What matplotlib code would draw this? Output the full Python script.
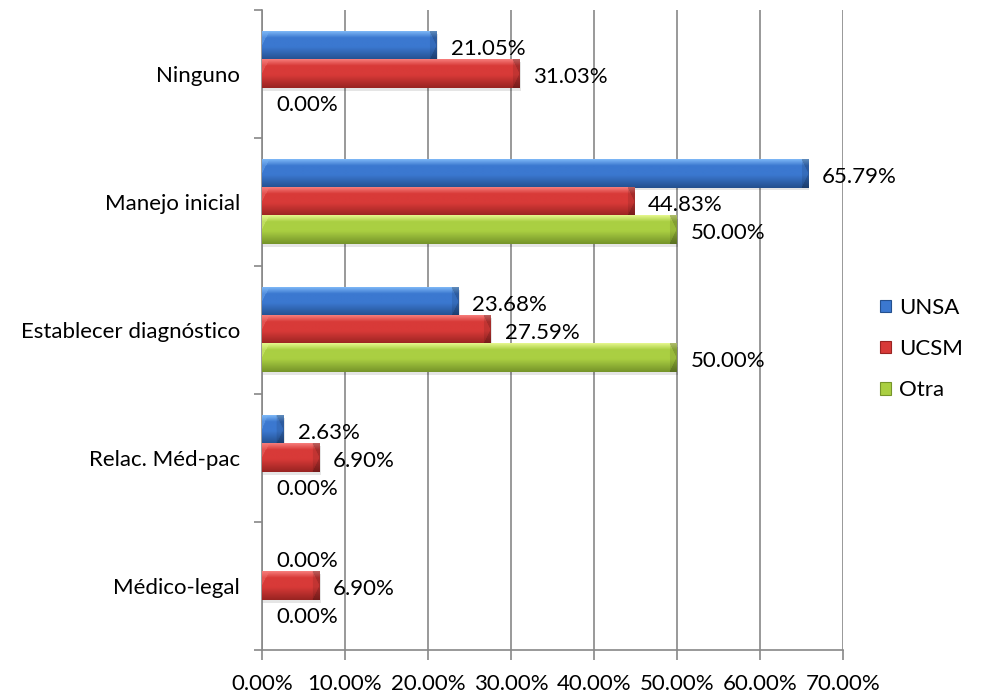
import numpy as np
import matplotlib
matplotlib.use("Agg")
import matplotlib.pyplot as plt
from matplotlib.patches import Patch
from matplotlib.colors import to_rgb

plt.rcParams["font.family"] = ["Lato", "DejaVu Sans"]

categories = ["Médico-legal", "Relac. Méd-pac", "Establecer diagnóstico",
              "Manejo inicial", "Ninguno"]
series = ["UNSA", "UCSM", "Otra"]
unsa = [0.00, 2.63, 23.68, 65.79, 21.05]
ucsm = [6.90, 6.90, 27.59, 44.83, 31.03]
otra = [0.00, 0.00, 50.00, 50.00, 0.00]
xticks = [0, 10, 20, 30, 40, 50, 60, 70]

# light / mid / dark shades for each series
palette = {
    "UNSA": ("#7ab4f4", "#3b78d0", "#24508f"),
    "UCSM": ("#f57a78", "#d83a38", "#9a2422"),
    "Otra": ("#e2f58a", "#aacf42", "#76952a"),
}
FS = 16

fig = plt.figure(figsize=(10.06, 6.94), dpi=100)
ax = fig.add_axes([262 / 1006, 44 / 694, 581 / 1006, 640 / 694])

bar_h = 0.22
offsets = [bar_h, 0.0, -bar_h]
values = [unsa, ucsm, otra]


def bar_image(width_px, height_px, light, mid, dark):
    light, mid, dark = (np.array(to_rgb(c)) for c in (light, mid, dark))
    ny = max(int(height_px), 2)
    nx = max(int(width_px), 2)
    t = np.linspace(0, 1, ny)[:, None]
    # vertical shading: bright top bevel, saturated body, darker bottom
    top = light * (1 - t / 0.22) + mid * (t / 0.22)
    body = mid
    bottom = mid * (1 - (t - 0.55) / 0.45) + dark * ((t - 0.55) / 0.45)
    col = np.where(t < 0.22, top, np.where(t < 0.55, body, bottom))
    col = col[:, None, :] * np.ones((1, nx, 1))
    yy = np.linspace(0, 1, ny)
    # bevelled right end: darker wedge
    bev = min(7, nx // 3)
    for j in range(bev):
        frac = (bev - j) / bev
        mask = (yy < 0.5 * frac) | (yy > 1 - 0.5 * frac)
        col[:, nx - 1 - j, :] *= 0.9
        col[mask, nx - 1 - j, :] *= 0.85
    # bevelled left end: lighter wedge on top
    bevl = min(7, nx // 4)
    for j in range(bevl):
        frac = (bevl - j) / bevl
        mask = yy < 0.45 * frac
        col[mask, j, :] = col[mask, j, :] * 0.6 + light * 0.4
    return np.clip(col, 0, 1)


px_per_unit_x = 581 / 70
px_per_unit_y = 640 / 5

for s, off, vals in zip(series, offsets, values):
    light, mid, dark = palette[s]
    for i, v in enumerate(vals):
        y = i + off
        if v > 0:
            # soft shadow under the bar
            ax.barh(y - 0.02, v, height=bar_h, left=0.15, color="black", alpha=0.10,
                    zorder=2, linewidth=0)
            img = bar_image(v * px_per_unit_x, bar_h * px_per_unit_y, light, mid, dark)
            ax.imshow(img, extent=[0, v, y - bar_h / 2, y + bar_h / 2],
                      aspect="auto", zorder=3, interpolation="bilinear", origin="upper")
        ax.annotate(f"{v:.2f}%", xy=(v, y), xytext=(10, -2), textcoords="offset points",
                    ha="left", va="center", fontsize=FS, color="black", zorder=5)

ax.set_xlim(0, 70)
ax.set_ylim(-0.5, 4.5)
ax.set_aspect("auto")

ax.set_xticks(xticks)
ax.set_xticklabels([f"{t:.2f}%" for t in xticks], fontsize=FS)
ax.set_yticks(range(len(categories)))
ax.set_yticklabels(categories, fontsize=FS)
ax.set_yticks(np.arange(-0.5, 5, 1), minor=True)

ax.tick_params(axis="y", which="major", length=0, pad=16)
ax.tick_params(axis="y", which="minor", length=6, color="#888888", width=1.2)
ax.tick_params(axis="x", which="major", length=7, color="#888888", width=1.2, pad=10)

ax.grid(axis="x", color="#888888", linewidth=1.2, zorder=0)
ax.set_axisbelow(True)
for name in ["top", "right"]:
    ax.spines[name].set_visible(False)
for name in ["left", "bottom"]:
    ax.spines[name].set_color("#888888")
    ax.spines[name].set_linewidth(1.2)

handles = [Patch(facecolor=palette[s][1], edgecolor=palette[s][2], linewidth=0.8)
           for s in series]
fig.legend(handles, series, loc="center left", bbox_to_anchor=(860 / 1006, 1 - 349 / 694),
           frameon=False, fontsize=FS, handlelength=0.5, handleheight=0.5,
           handletextpad=0.35, labelspacing=0.95)

fig.savefig("out.png", dpi=100)
